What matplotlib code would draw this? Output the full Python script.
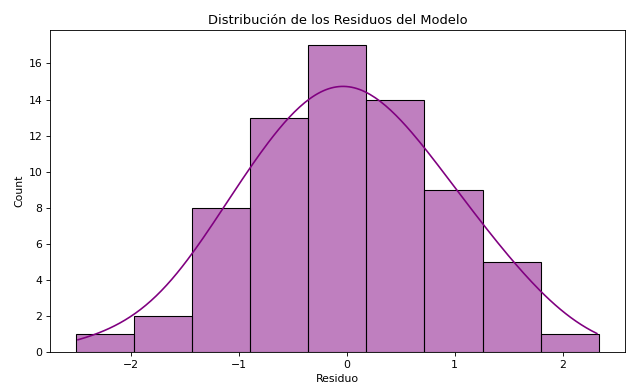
import numpy as np
import matplotlib.pyplot as plt
import seaborn as sns

# histogram
edge_lo = -2.506
edge_hi = 2.334
counts = [1, 2, 8, 13, 17, 14, 9, 5, 1]

edges = np.linspace(edge_lo, edge_hi, len(counts) + 1)
centers = (edges[:-1] + edges[1:]) / 2

# 8 x 4.92 inch figure rendered at reduced dpi -> 626 x 385 px
dpi = 78.25
fig, ax = plt.subplots(figsize=(626 / dpi, 385 / dpi), dpi=dpi)
sns.histplot(x=centers, weights=counts, bins=len(counts), binrange=(edge_lo, edge_hi),
             kde=True, kde_kws={'bw_adjust': 0.7, 'cut': 0.38},
             color='purple', ax=ax)
ax.set_xlim(-2.748, 2.576)
ax.set_title('Distribución de los Residuos del Modelo')
ax.set_xlabel('Residuo')
ax.set_ylabel('Count')

fig.subplots_adjust(left=0.08, right=0.998, top=0.922, bottom=0.085)
fig.savefig('out.png', dpi=dpi)
